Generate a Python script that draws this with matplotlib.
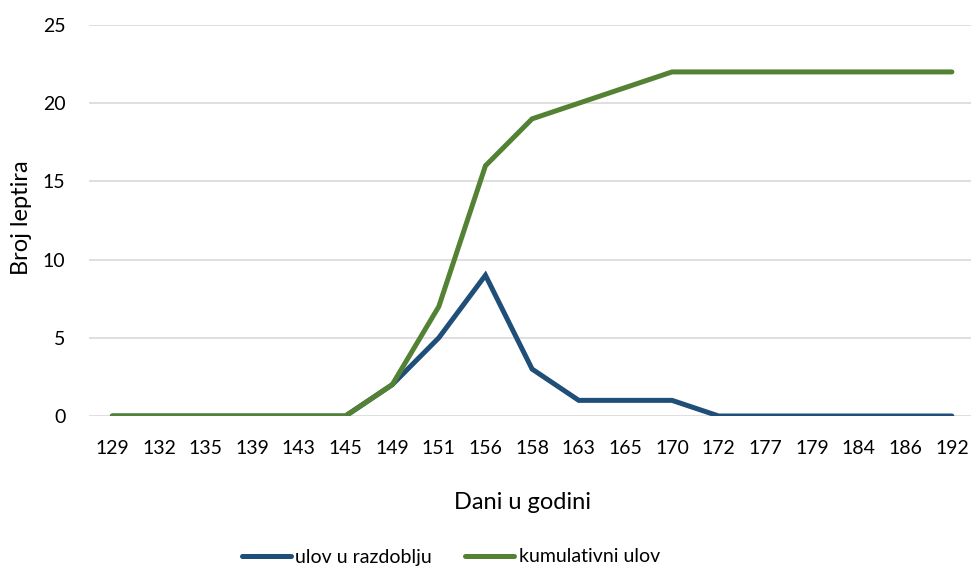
import matplotlib
matplotlib.use('Agg')
import matplotlib.pyplot as plt
import numpy as np

dani = ['129', '132', '135', '139', '143', '145', '149', '151', '156', '158',
        '163', '165', '170', '172', '177', '179', '184', '186', '192']
ulov = [0, 0, 0, 0, 0, 0, 2, 5, 9, 3, 1, 1, 1, 0, 0, 0, 0, 0, 0]
kumulativno = [0, 0, 0, 0, 0, 0, 2, 7, 16, 19, 20, 21, 22, 22, 22, 22, 22, 22, 22]

plt.rcParams['font.family'] = ['Lato', 'DejaVu Sans']
fs = 14

W, H = 971, 567
fig = plt.figure(figsize=(W / 100, H / 100), dpi=100)
ax = fig.add_axes([89 / W, 1 - 416 / H, (W - 89) / W, (416 - 25) / H])

x = np.arange(len(dani))
ax.plot(x, ulov, color='#1F4E79', lw=3.6, solid_capstyle='round',
        solid_joinstyle='miter', label='ulov u razdoblju')
ax.plot(x, kumulativno, color='#548235', lw=3.6, solid_capstyle='round',
        solid_joinstyle='miter', label='kumulativni ulov')

ax.set_ylim(0, 25)
ax.set_yticks(range(0, 26, 5))
ax.set_xlim(-0.5, 18.41)
ax.set_xticks(x)
ax.set_xticklabels(dani)
ax.grid(axis='y', color='#D9D9D9', lw=1.2)
ax.set_axisbelow(True)
for s in ax.spines.values():
    s.set_visible(False)
ax.tick_params(length=0, labelsize=fs, colors='black')
ax.tick_params(axis='x', pad=17)
ax.tick_params(axis='y', pad=17)

ax.set_xlabel('Dani u godini', fontsize=17)
ax.set_ylabel('Broj leptira', fontsize=17)
ax.xaxis.set_label_coords(0.491, -0.22)
ax.yaxis.set_label_coords(-0.077, 0.506)
ax.xaxis.label.set_va('center')
ax.yaxis.label.set_va('center')

fig.legend(loc='center', bbox_to_anchor=(451 / W, 1 - 557 / H), ncol=2,
           frameon=False, fontsize=fs, handlelength=2.5, handletextpad=0.25,
           columnspacing=1.7)

fig.savefig('out.png', dpi=100)
